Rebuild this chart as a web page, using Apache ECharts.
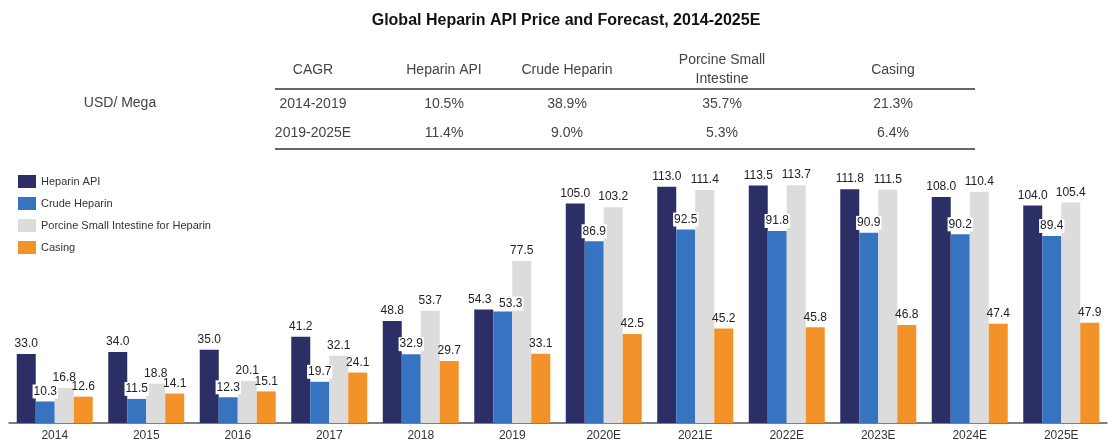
<!DOCTYPE html>
<html>
<head>
<meta charset="utf-8">
<script src="https://cdn.jsdelivr.net/npm/echarts@6/dist/echarts.min.js"></script>
<style>
html,body{margin:0;padding:0;background:#fff;}
#chart{width:1114px;height:444px;}
</style>
</head>
<body>
<div id="chart"></div>
<script>
const categories = ['2014','2015','2016','2017','2018','2019','2020E','2021E','2022E','2023E','2024E','2025E'];
const heparinAPI = [33.0,34.0,35.0,41.2,48.8,54.3,105.0,113.0,113.5,111.8,108.0,104.0];
const crudeHeparin = [10.3,11.5,12.3,19.7,32.9,53.3,86.9,92.5,91.8,90.9,90.2,89.4];
const porcineIntestine = [16.8,18.8,20.1,32.1,53.7,77.5,103.2,111.4,113.7,111.5,110.4,105.4];
const casing = [12.6,14.1,15.1,24.1,29.7,33.1,42.5,45.2,45.8,46.8,47.4,47.9];
const seriesNames = ['Heparin API','Crude Heparin','Porcine Small Intestine for Heparin','Casing'];
const cagrHeader = ['CAGR','Heparin API','Crude Heparin','Porcine Small\nIntestine','Casing'];
const cagrRows = [
  ['2014-2019','10.5%','38.9%','35.7%','21.3%'],
  ['2019-2025E','11.4%','9.0%','5.3%','6.4%']
];

const colors = ['#2c2f65','#3674c2','#dcdcdc','#f39229'];
const colX = [313,444,567,722,893];
const rowY = [104,133];
const font = 'Liberation Sans, Arial, sans-serif';

const graphics = [];
cagrHeader.forEach((h,i)=>{
  graphics.push({type:'text',x:colX[i],y:70,style:{text:h,font:'14px '+font,fill:'#444',align:'center',verticalAlign:'middle',lineHeight:19}});
});
cagrRows.forEach((row,r)=>{
  row.forEach((v,i)=>{
    graphics.push({type:'text',x:colX[i],y:rowY[r],style:{text:v,font:'14px '+font,fill:'#444',align:'center',verticalAlign:'middle'}});
  });
});
graphics.push({type:'line',shape:{x1:275,y1:89,x2:975,y2:89},style:{stroke:'#666',lineWidth:2}});
graphics.push({type:'line',shape:{x1:275,y1:149,x2:975,y2:149},style:{stroke:'#666',lineWidth:2}});
graphics.push({type:'text',x:120,y:103,style:{text:'USD/ Mega',font:'14px '+font,fill:'#444',align:'center',verticalAlign:'middle'}});

// small manual label nudges where adjacent labels would collide (as in the source)
const labelNudge = {'0-5':[-4,0],'1-5':[8,2]};

const dataSets = [heparinAPI,crudeHeparin,porcineIntestine,casing];
const series = dataSets.map((d,i)=>({
  name: seriesNames[i],
  type:'bar',
  data:d.map((v,j)=>{
    const n = labelNudge[i+'-'+j];
    return n ? {value:v,label:{offset:n}} : v;
  }),
  barWidth:19,
  barGap:'0%',
  itemStyle:{color:colors[i]},
  label:{
    show:true,position:'top',distance:3,
    formatter:p=>p.value.toFixed(1),
    fontFamily:font,fontSize:12,color:'#222',
    backgroundColor:i===1?'#fff':'transparent',padding:[1,1]
  }
}));

const chart = echarts.init(document.getElementById('chart'),null,{renderer:'canvas'});
chart.setOption({
  animation:false,
  title:{text:'Global Heparin API Price and Forecast, 2014-2025E',left:561,top:8,textAlign:'center',
    textStyle:{fontFamily:font,fontSize:16,fontWeight:'bold',color:'#111'}},
  legend:{orient:'vertical',left:13,top:170,itemWidth:18,itemHeight:13,itemGap:9,
    icon:'rect',textStyle:{fontFamily:font,fontSize:11,color:'#333'},data:seriesNames},
  grid:{left:9,right:7,top:172,bottom:21},
  xAxis:{type:'category',data:categories,
    axisLine:{lineStyle:{color:'#555',width:1.5}},axisTick:{show:false},
    axisLabel:{fontFamily:font,fontSize:12,color:'#333',margin:7}},
  yAxis:{type:'value',min:0,max:120,show:false},
  graphic:graphics,
  series:series
});
</script>
</body>
</html>
